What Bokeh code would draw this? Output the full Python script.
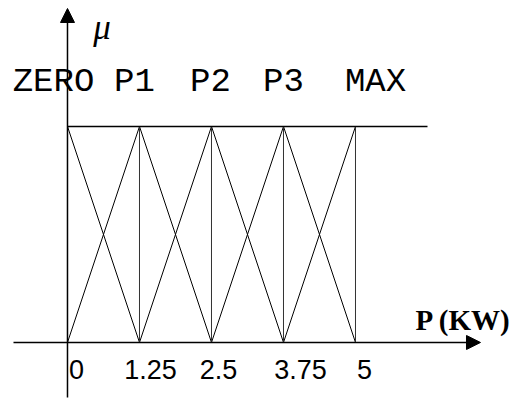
from bokeh.plotting import figure
from bokeh.models import Arrow, NormalHead, Range1d, ColumnDataSource, Label
from bokeh.core.properties import value
from bokeh.embed import file_html
from bokeh.resources import INLINE

# ---- data ----
centers = [0.0, 1.25, 2.5, 3.75, 5.0]
set_names = ["ZERO", "P1", "P2", "P3", "MAX"]
tick_values = [0.0, 1.25, 2.5, 3.75, 5.0]
tick_labels = ["0", "1.25", "2.5", "3.75", "5"]
half_width = 1.25
top_end = 6.25
x_title = "P (KW)"
y_title = "\u03bc"

# ---- layout/style ----
name_offsets = [-14, -5, -1, 0, 20]
tick_offsets = [9, 11, 7, 17, 9]

p = figure(width=517, height=399, output_backend="svg", toolbar_location=None,
           x_range=Range1d(-1.163, 7.8125), y_range=Range1d(-0.264, 1.583),
           x_axis_type=None, y_axis_type=None, min_border=0,
           outline_line_color=None, tools="")
p.xgrid.visible = False
p.ygrid.visible = False

lo, hi = min(centers), max(centers)

# diagonal membership lines
xs, ys = [], []
for c in centers:
    if c - half_width >= lo:
        xs.append([c - half_width, c]); ys.append([0, 1])
    if c + half_width <= hi:
        xs.append([c, c + half_width]); ys.append([1, 0])
p.multi_line(xs=xs, ys=ys, line_color="black", line_width=1)

# vertical lines at peaks
p.segment(x0=centers, y0=[0] * len(centers), x1=centers, y1=[1] * len(centers),
          line_color="#333333", line_width=1)

# top plateau line
p.segment(x0=[lo], y0=[1], x1=[top_end], y1=[1], line_color="black", line_width=1.5)

# axes arrows
p.add_layout(Arrow(end=NormalHead(size=14, fill_color="black", line_color="black"),
                   x_start=-0.9375, y_start=0, x_end=7.17, y_end=0,
                   line_color="black", line_width=1.5))
p.add_layout(Arrow(end=NormalHead(size=14, fill_color="black", line_color="black"),
                   x_start=0, y_start=-0.255, x_end=0, y_end=1.546,
                   line_color="black", line_width=1.5))

# set names
src_n = ColumnDataSource(dict(x=centers, y=[1.204] * len(centers), t=set_names, o=name_offsets))
p.text(x="x", y="y", text="t", x_offset="o", source=src_n, text_align="center",
       text_baseline="alphabetic", text_font=value("Liberation Mono"),
       text_font_size="34px", text_color="black")

# tick labels
src_t = ColumnDataSource(dict(x=tick_values, y=[-0.125] * len(tick_values), t=tick_labels, o=tick_offsets))
p.text(x="x", y="y", text="t", x_offset="o", source=src_t, text_align="center",
       text_baseline="alphabetic", text_font=value("Liberation Sans"),
       text_font_size="27px", text_color="black")

# axis titles
p.add_layout(Label(x=0.6, y=1.46, text=y_title, text_align="center",
                   text_baseline="alphabetic", text_font="Liberation Serif",
                   text_font_style="italic", text_font_size="35px", text_color="black"))
p.add_layout(Label(x=6.04, y=0.102, text=x_title, text_align="left",
                   text_baseline="alphabetic", text_font="Liberation Serif",
                   text_font_style="bold", text_font_size="29px", text_color="black"))

open("out.html", "w").write(file_html(p, INLINE))
